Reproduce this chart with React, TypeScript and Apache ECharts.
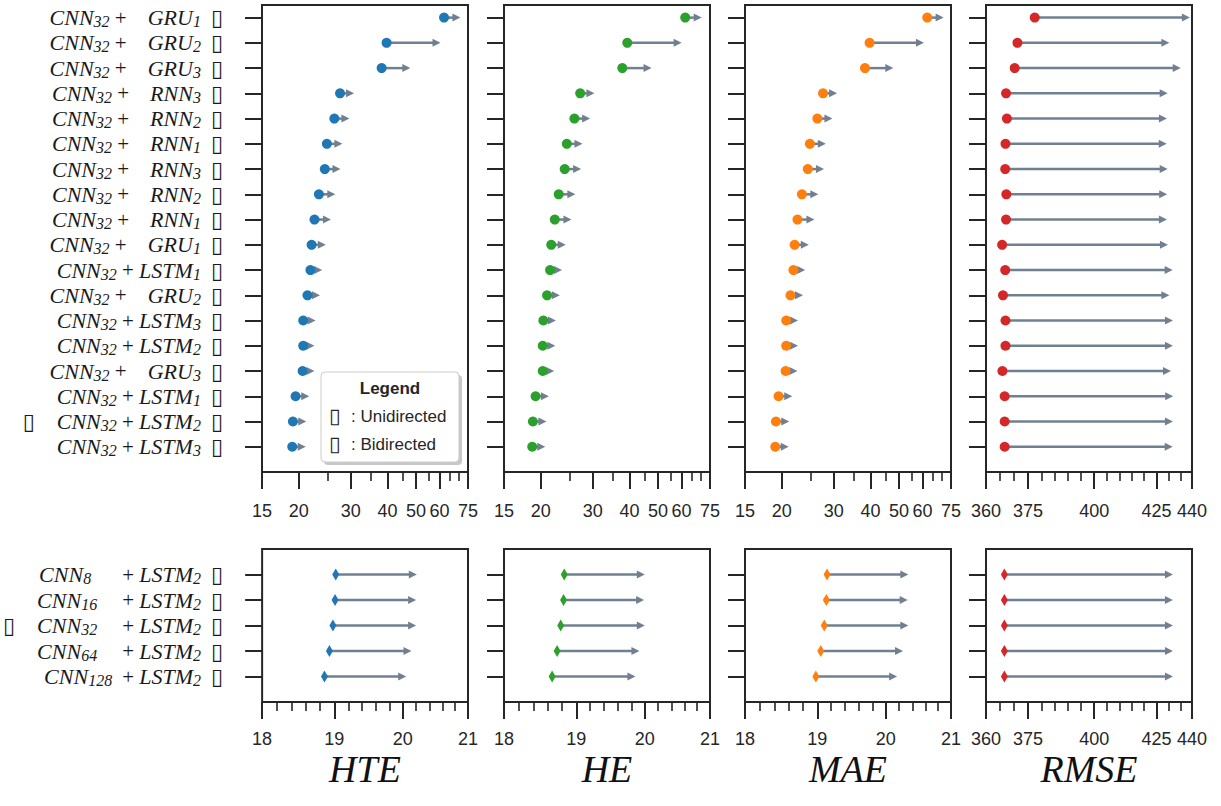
import React, { useEffect, useRef } from "react";
import * as echarts from "echarts";

// ---------- data ----------
const topModels = ["GRU", "GRU", "GRU", "RNN", "RNN", "RNN", "RNN", "RNN", "RNN", "GRU", "LSTM", "GRU", "LSTM", "LSTM", "GRU", "LSTM", "LSTM", "LSTM"];
const topModelIdx = [1, 2, 3, 3, 2, 1, 3, 2, 1, 1, 1, 2, 3, 2, 3, 1, 2, 3];
const topMarked = 16; // row carrying a leading marker glyph

const hteStart = [62.2, 39.7, 38.2, 27.6, 26.4, 24.9, 24.5, 23.4, 22.6, 22.1, 21.9, 21.4, 20.7, 20.7, 20.6, 19.5, 19.1, 19.0];
const hteEnd = [70.7, 60.5, 47.8, 30.8, 29.7, 28.1, 27.7, 26.6, 25.7, 24.7, 24.0, 23.6, 22.8, 22.6, 22.6, 21.7, 21.2, 21.1];
const heStart = [61.8, 39.3, 37.8, 27.2, 26.0, 24.5, 24.1, 23.0, 22.3, 21.7, 21.5, 21.0, 20.4, 20.3, 20.3, 19.2, 18.8, 18.7];
const heEnd = [70.3, 60.1, 47.5, 30.4, 29.4, 27.7, 27.4, 26.2, 25.4, 24.3, 23.6, 23.2, 22.5, 22.4, 22.2, 21.3, 20.9, 20.7];
const maeStart = [62.3, 39.7, 38.3, 27.6, 26.4, 24.9, 24.5, 23.4, 22.6, 22.1, 21.9, 21.4, 20.7, 20.7, 20.6, 19.5, 19.1, 19.0];
const maeEnd = [70.8, 60.7, 47.8, 30.8, 29.7, 28.2, 27.8, 26.6, 25.8, 24.7, 24.0, 23.6, 22.7, 22.7, 22.6, 21.7, 21.2, 21.1];
const rmseStart = [377.5, 371.2, 370.2, 367.1, 367.4, 366.9, 366.8, 367.2, 367.1, 365.7, 366.8, 366.0, 366.9, 366.9, 365.8, 366.6, 366.6, 366.6];
const rmseEnd = [439.1, 430.4, 435.2, 429.7, 429.4, 429.3, 429.7, 429.5, 429.4, 429.8, 431.8, 430.4, 431.9, 431.9, 431.1, 432.0, 431.9, 431.8];

const botCnn = [8, 16, 32, 64, 128];
const botMarked = 2;
const hte2Start = [19.02, 19.01, 18.98, 18.93, 18.86];
const hte2End = [20.21, 20.2, 20.2, 20.13, 20.05];
const he2Start = [18.83, 18.82, 18.78, 18.73, 18.66];
const he2End = [20.0, 19.99, 20.0, 19.92, 19.86];
const mae2Start = [19.14, 19.13, 19.1, 19.05, 18.98];
const mae2End = [20.34, 20.33, 20.34, 20.26, 20.17];
const rmse2Start = [366.5, 366.5, 366.5, 366.5, 366.5];
const rmse2End = [431.9, 431.9, 431.9, 431.9, 431.9];

const errTicksMajor = [15, 20, 30, 40, 50, 60, 75];
const errTicksMinor = [25, 35, 45, 55, 65, 70];
const rmseTicksMajor = [360, 375, 400, 425, 440];
const rmseTicksMinor = [365, 370, 380, 385, 390, 395, 405, 410, 415, 420, 430, 435];
const botTicksMajor = [18, 19, 20, 21];
const botTicksMinor = [18.2, 18.4, 18.6, 18.8, 19.2, 19.4, 19.6, 19.8, 20.2, 20.4, 20.6, 20.8];

const metricNames = ["HTE", "HE", "MAE", "RMSE"];
const metricColors = ["#1f77b4", "#2ca02c", "#ff7f0e", "#d62728"];
const legendItems = ["Unidirected", "Bidirected"];

// ---------- layout ----------
const colLeft = [262, 504, 745, 986];
const colWidth = 206;
const topGrid = { top: 5, height: 467 };
const botGrid = { top: 549, height: 153 };
const DARK = "#262626";
const ARROW = "#708090";
const SANS = "Liberation Sans, Arial, sans-serif";
const SERIF = "Liberation Serif, Times New Roman, serif";
const GLYPH = "▯";

const LOG = (v: number) => Math.log10(v);

const rich = {
  n: { fontFamily: SERIF, fontStyle: "italic", fontSize: 22, color: "#1a1a1a", lineHeight: 24 },
  s: { fontFamily: SERIF, fontStyle: "italic", fontSize: 16, color: "#1a1a1a", lineHeight: 12, verticalAlign: "bottom" },
  p: { fontFamily: SERIF, fontSize: 21, color: "#1a1a1a", lineHeight: 24 },
  b: { fontFamily: "DejaVu Sans", fontSize: 22, color: "#1a1a1a", lineHeight: 24 },
  g: { width: 22, lineHeight: 24 },
  g2: { width: 10, lineHeight: 24 },
  g8: { width: 31, lineHeight: 24 },
  g16: { width: 25, lineHeight: 24 },
  g32: { width: 25, lineHeight: 24 },
  g64: { width: 25, lineHeight: 24 },
  g128: { width: 10, lineHeight: 24 },
};

function topLabel(i: number) {
  const m = topModels[i];
  const plus = m === "LSTM" ? "{p| + }" : "{p| +    }";
  const lead = i === topMarked ? `{b|${GLYPH}}{g| }` : "";
  return `${lead}{n|CNN}{s|32}${plus}{n|${m}}{s|${topModelIdx[i]}}{g2| }{b|${GLYPH}}`;
}
function botLabel(i: number) {
  const k = botCnn[i];
  const lead = i === botMarked ? `{b|${GLYPH}}{g| }` : "";
  return `${lead}{n|CNN}{s|${k}}{g${k}| }{p|+ }{n|LSTM}{s|2}{g2| }{b|${GLYPH}}`;
}

export default function App() {
  const ref = useRef<HTMLDivElement>(null);
  useEffect(() => {
    if (!ref.current) return;
    const chart = echarts.init(ref.current, null, { renderer: "svg" });

    const panels = [
      { row: 0, col: 0, start: hteStart, end: hteEnd, min: 15, max: 75, maj: errTicksMajor, mnr: errTicksMinor },
      { row: 0, col: 1, start: heStart, end: heEnd, min: 15, max: 75, maj: errTicksMajor, mnr: errTicksMinor },
      { row: 0, col: 2, start: maeStart, end: maeEnd, min: 15, max: 75, maj: errTicksMajor, mnr: errTicksMinor },
      { row: 0, col: 3, start: rmseStart, end: rmseEnd, min: 360, max: 440, maj: rmseTicksMajor, mnr: rmseTicksMinor },
      { row: 1, col: 0, start: hte2Start, end: hte2End, min: 18, max: 21, maj: botTicksMajor, mnr: botTicksMinor },
      { row: 1, col: 1, start: he2Start, end: he2End, min: 18, max: 21, maj: botTicksMajor, mnr: botTicksMinor },
      { row: 1, col: 2, start: mae2Start, end: mae2End, min: 18, max: 21, maj: botTicksMajor, mnr: botTicksMinor },
      { row: 1, col: 3, start: rmse2Start, end: rmse2End, min: 360, max: 440, maj: rmseTicksMajor, mnr: rmseTicksMinor },
    ];

    const grid: any[] = [];
    const xAxis: any[] = [];
    const yAxis: any[] = [];
    const series: any[] = [];

    panels.forEach((p, g) => {
      const gp = p.row === 0 ? topGrid : botGrid;
      grid.push({
        left: colLeft[p.col], width: colWidth, top: gp.top, height: gp.height,
        show: true, borderColor: DARK, borderWidth: 2, backgroundColor: "transparent",
      });
      const lo = LOG(p.min), hi = LOG(p.max);
      xAxis.push({
        type: "value", gridIndex: g, min: lo, max: hi, position: "bottom",
        axisLine: { show: false, onZero: false }, splitLine: { show: false },
        axisTick: { show: true, inside: false, length: 17, customValues: p.maj.map(LOG), lineStyle: { color: DARK, width: 2 } },
        axisLabel: {
          show: true, customValues: p.maj.map(LOG), margin: p.row === 0 ? 30 : 28, fontSize: 18, fontFamily: SANS, color: DARK,
          formatter: (v: number) => String(Math.round(Math.pow(10, v))),
        },
      });
      xAxis.push({
        type: "value", gridIndex: g, min: lo, max: hi, position: "bottom",
        axisLine: { show: false, onZero: false }, splitLine: { show: false }, axisLabel: { show: false },
        axisTick: { show: true, inside: false, length: 9, customValues: p.mnr.map(LOG), lineStyle: { color: DARK, width: 1.6 } },
      });
      const n = p.start.length;
      const rows = p.start.map((_, i) => i);
      yAxis.push({
        type: "value", gridIndex: g, inverse: true,
        min: p.row === 0 ? -0.5 : -1, max: n,
        axisLine: { show: false, onZero: false }, splitLine: { show: false },
        axisTick: { show: true, inside: false, length: 17, customValues: rows, lineStyle: { color: DARK, width: 2 } },
        axisLabel: {
          show: p.col === 0, customValues: rows, margin: 39, rich,
          formatter: (v: number) => (p.row === 0 ? topLabel(Math.round(v)) : botLabel(Math.round(v))),
        },
      });
      series.push({
        type: "custom", xAxisIndex: 2 * g, yAxisIndex: g, z: 2,
        data: p.start.map((s, i) => [LOG(s), LOG(p.end[i]), i]),
        encode: { x: [0, 1], y: 2 },
        renderItem: (params: any, api: any) => {
          const a = api.coord([api.value(0), api.value(2)]);
          const b = api.coord([api.value(1), api.value(2)]);
          const hl = 8, hw = 8;
          return {
            type: "group",
            children: [
              { type: "line", shape: { x1: a[0], y1: a[1], x2: b[0] - hl + 1, y2: b[1] }, style: { stroke: ARROW, lineWidth: 2.5 } },
              { type: "polygon", shape: { points: [[b[0], b[1]], [b[0] - hl, b[1] - hw / 2], [b[0] - hl, b[1] + hw / 2]] }, style: { fill: ARROW } },
            ],
          };
        },
      });
      series.push({
        type: "scatter", xAxisIndex: 2 * g, yAxisIndex: g, z: 3,
        symbol: p.row === 0 ? "circle" : "diamond",
        symbolSize: p.row === 0 ? 10 : [7, 12],
        itemStyle: { color: metricColors[p.col], opacity: 1 },
        data: p.start.map((s, i) => [LOG(s), i]),
      });
    });

    const graphic: any[] = [];
    // legend box
    graphic.push({ type: "rect", shape: { x: 324, y: 375, width: 138, height: 90, r: 4 }, style: { fill: "rgba(0,0,0,0.22)" }, z: 10 });
    graphic.push({ type: "rect", shape: { x: 321, y: 372, width: 138, height: 90, r: 4 }, style: { fill: "#ffffff", stroke: "#cccccc", lineWidth: 1 }, z: 11 });
    graphic.push({ type: "text", x: 390, y: 388, z: 12, style: { text: "Legend", fontFamily: SANS, fontWeight: "bold", fontSize: 17, fill: DARK, align: "center", verticalAlign: "middle" } });
    legendItems.forEach((t, i) => {
      const y = 416 + i * 28;
      graphic.push({ type: "text", x: 329, y, z: 12, style: { text: GLYPH, fontFamily: "DejaVu Sans", fontSize: 21, fill: DARK, align: "left", verticalAlign: "middle" } });
      graphic.push({ type: "text", x: 351, y, z: 12, style: { text: ": " + t, fontFamily: SANS, fontSize: 17, fill: DARK, align: "left", verticalAlign: "middle" } });
    });
    // metric titles
    metricNames.forEach((t, c) => {
      graphic.push({ type: "text", x: colLeft[c] + colWidth / 2, y: 769, style: { text: t, fontFamily: SERIF, fontStyle: "italic", fontSize: 38, lineHeight: 38, fill: "#111", align: "center", verticalAlign: "middle" } });
    });

    chart.setOption({ animation: false, backgroundColor: "#ffffff", grid, xAxis, yAxis, series, graphic });
    return () => chart.dispose();
  }, []);
  return <div ref={ref} style={{ position: "absolute", left: 0, top: 0, width: 1221, height: 806 }} />;
}
